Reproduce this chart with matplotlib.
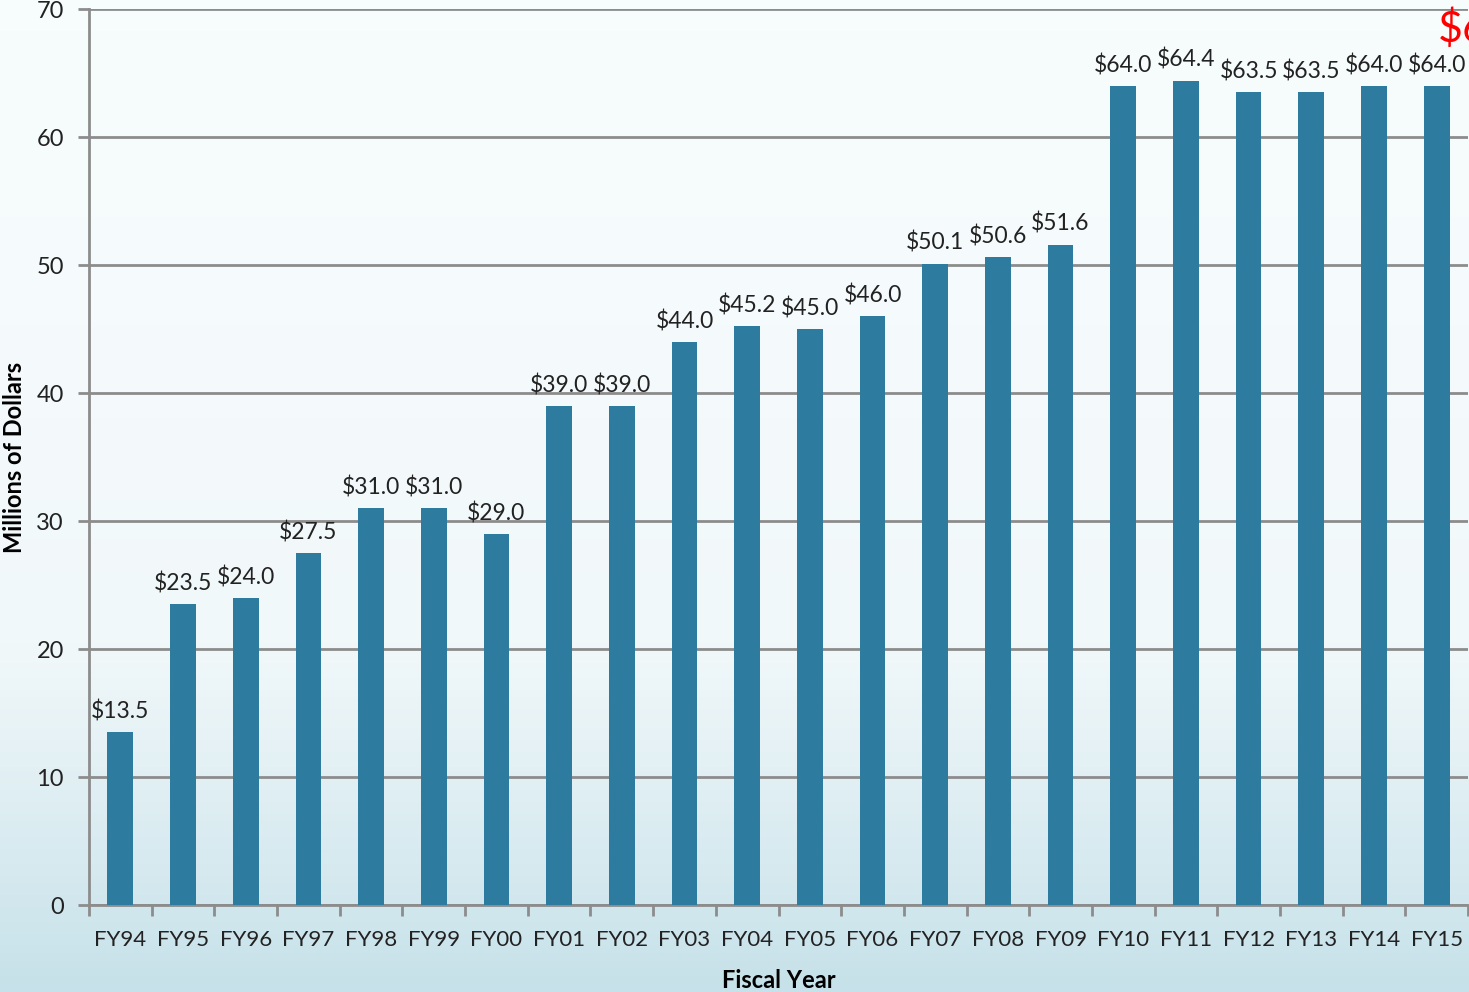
import numpy as np
import matplotlib
matplotlib.use("Agg")
import matplotlib.pyplot as plt
from matplotlib.colors import LinearSegmentedColormap

years = ["FY94", "FY95", "FY96", "FY97", "FY98", "FY99", "FY00", "FY01", "FY02", "FY03", "FY04",
         "FY05", "FY06", "FY07", "FY08", "FY09", "FY10", "FY11", "FY12", "FY13", "FY14", "FY15"]
funding = [13.5, 23.5, 24.0, 27.5, 31.0, 31.0, 29.0, 39.0, 39.0, 44.0, 45.2,
           45.0, 46.0, 50.1, 50.6, 51.6, 64.0, 64.4, 63.5, 63.5, 64.0, 64.0]
labels = ["$%.1f" % v for v in funding]

plt.rcParams['font.family'] = ['Lato', 'DejaVu Sans']

fig = plt.figure(figsize=(14.69, 9.92), dpi=100)

# background gradient
bg = fig.add_axes([0, 0, 1, 1], zorder=-10)
cmap = LinearSegmentedColormap.from_list("bg", ["#f7fcfd", "#f1f8fa", "#c6e1e9"])
grad = np.linspace(0, 1, 256).reshape(-1, 1) ** 1.6
bg.imshow(grad, aspect="auto", cmap=cmap, extent=[0, 1, 0, 1], origin="upper")
bg.axis("off")

ax = fig.add_axes([89 / 1469, 87 / 992, 1379 / 1469, 896 / 992])
ax.patch.set_alpha(0)

x = np.arange(len(years))
ax.bar(x, funding, width=0.41, color="#2e7ba0", zorder=3)

for xi, v, lab in zip(x, funding, labels):
    ax.annotate(lab, (xi, v), xytext=(0, 7), textcoords="offset points",
                ha="center", va="bottom", fontsize=16.5, color="#222222")

ax.set_xlim(-0.5, len(years) - 0.5)
ax.set_ylim(0, 70)
ax.set_yticks(range(0, 71, 10))
ax.yaxis.grid(True, color="#8c8c8c", linewidth=2, zorder=0)
ax.set_axisbelow(True)

ax.set_xticks(x)
ax.set_xticklabels(years, fontsize=16, color="#222222")
ax.set_xticks(np.arange(-0.5, len(years), 1), minor=True)
ax.tick_params(axis="x", which="major", length=0, pad=18)
ax.tick_params(axis="x", which="minor", length=8, width=2, color="#8c8c8c", direction="out")
ax.tick_params(axis="y", length=8, width=2, color="#8c8c8c", labelsize=17, labelcolor="#222222", pad=10)

for side in ["top", "right"]:
    ax.spines[side].set_visible(False)
for side in ["left", "bottom"]:
    ax.spines[side].set_color("#8c8c8c")
    ax.spines[side].set_linewidth(2)

fig.text(15 / 1469, 1 - 457 / 992, "Millions of Dollars", rotation=90, fontsize=17,
         fontweight="bold", ha="center", va="center")
ax.set_xlabel("Fiscal Year", fontsize=17, fontweight="bold", labelpad=14)

# red overlay text cut off at the top right, as in the source
fig.text(1438 / 1469, 1 - 42 / 992, "$64.0", color="red", fontsize=31, ha="left", va="baseline")

fig.savefig("out.png", dpi=100)
